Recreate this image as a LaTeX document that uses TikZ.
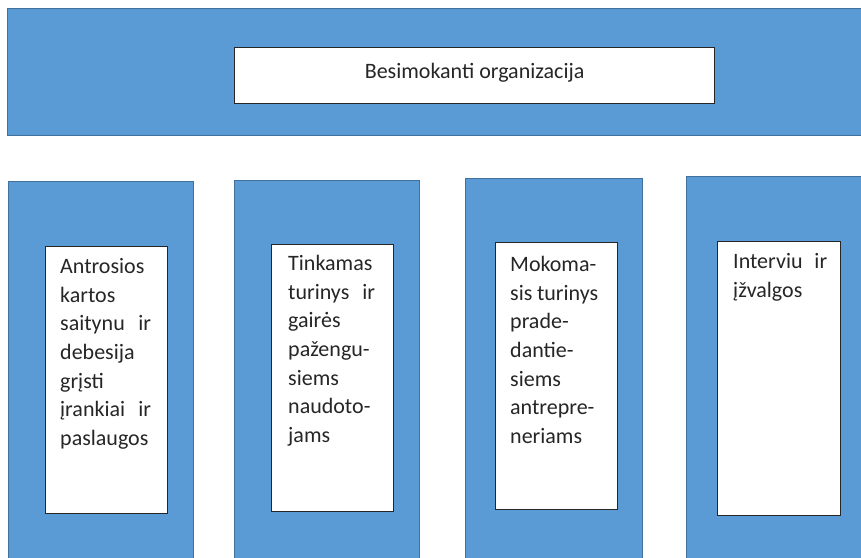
\documentclass[tikz,border=0pt]{standalone}
\usepackage{fontspec}
\setmainfont{Carlito}
\definecolor{panelblue}{HTML}{5B9BD5}
\definecolor{paneledge}{HTML}{41719C}
\definecolor{inktext}{HTML}{262626}
\begin{document}
\begin{tikzpicture}[x=1pt,y=-1pt,
  panel/.style={draw=paneledge,line width=1pt,fill=panelblue},
  card/.style={draw=black!85,line width=1.2pt,fill=white},
  cardtext/.style={anchor=north west,inner sep=0pt,align=justify,text=inktext,
    font=\fontsize{22}{28.7}\selectfont}]
\useasboundingbox (0,0) rectangle (861,557);
\clip (0,0) rectangle (861,557);

% organisation banner
\path[panel] (7,8) rectangle (900,135);
\node[card,anchor=north west,minimum width=480pt,minimum height=56pt,
      text depth=10pt,text=inktext,font=\fontsize{22}{26}\selectfont] (org) at (234,47)
      {Besimokanti organizacija};

% four columns
\path[panel] (8,181) rectangle (193,600);
\node[card,anchor=north west,minimum width=122pt,minimum height=267pt] (c1) at (45,246) {};
\node[cardtext,text width=91pt] (t1) at (60,258)
  {Antrosios\\ kartos\\ saitynu\hfill ir\\ debesija\\ grįsti\\ įrankiai\hfill ir\\ paslaugos};

\path[panel] (234,180) rectangle (419,600);
\node[card,anchor=north west,minimum width=122pt,minimum height=267pt] (c2) at (271,244) {};
\node[cardtext,text width=87pt] (t2) at (288,255)
  {Tinkamas\\ turinys\hfill ir\\ gairės\\ pažengu-\\ siems\\ naudoto-\\ jams};

\path[panel] (465,178) rectangle (642,600);
\node[card,anchor=north west,minimum width=122pt,minimum height=267pt] (c3) at (495,242) {};
\node[cardtext,text width=88pt] (t3) at (510,256)
  {Mokoma-\\ sis turinys\\ prade-\\ dantie-\\ siems\\ antrepre-\\ neriams};

\path[panel] (686,176) rectangle (900,600);
\node[card,anchor=north west,minimum width=123pt,minimum height=274pt] (c4) at (717,241) {};
\node[cardtext,text width=94pt] (t4) at (733,253)
  {Interviu\hfill ir\\ įžvalgos};
\end{tikzpicture}
\end{document}
